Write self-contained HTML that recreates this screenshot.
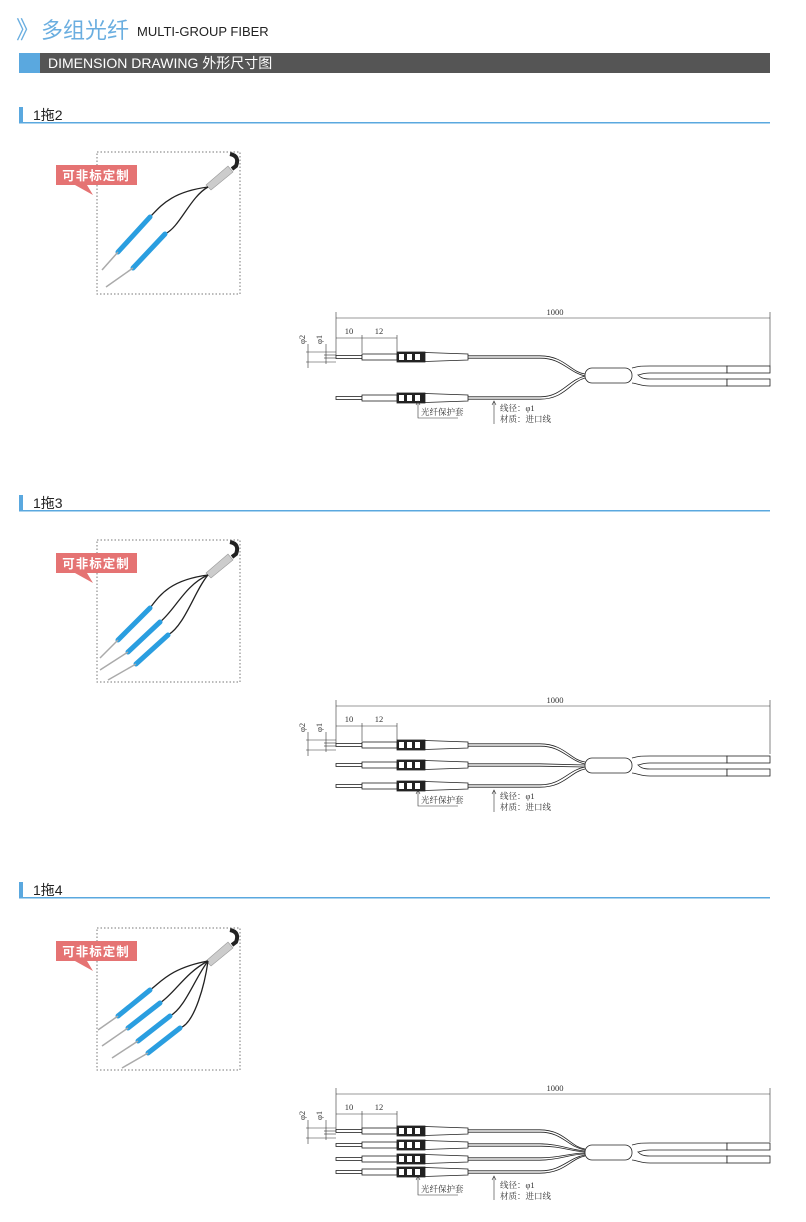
<!DOCTYPE html>
<html><head><meta charset="utf-8"><style>
html,body{margin:0;padding:0;background:#fff;}
svg{display:block;font-family:"Liberation Sans","Noto Sans CJK SC",sans-serif;}
.d{font-family:"Liberation Serif","Noto Serif CJK SC",serif;font-size:8.5px;fill:#333;}
</style></head><body>
<svg width="806" height="1222" viewBox="0 0 806 1222" xmlns="http://www.w3.org/2000/svg">
<defs>
  <g id="con" stroke="#222" stroke-width="0.8">
    <rect x="336" y="-1.5" width="26" height="3" fill="#fff"/>
    <rect x="362" y="-3" width="35" height="6" fill="#fff"/>
    <rect x="397" y="-5" width="28" height="10" fill="#222"/>
    <rect x="399" y="-3" width="5" height="6" fill="#fff" stroke="none"/>
    <rect x="407" y="-3" width="5" height="6" fill="#fff" stroke="none"/>
    <rect x="415" y="-3" width="5" height="6" fill="#fff" stroke="none"/>
    <polygon points="425,-4.5 468,-3 468,3 425,4.5" fill="#fff"/>
    <line x1="468" y1="-1.2" x2="540" y2="-1.2"/>
    <line x1="468" y1="1.2" x2="540" y2="1.2"/>
  </g>
  <g id="photobox">
    <rect x="97" y="0" width="143" height="142" fill="none" stroke="#777" stroke-dasharray="1.5,2" stroke-width="1"/>
    <path d="M56,13 h81 v20 h-50 l6,10 l-18,-10 h-19 z" fill="#e57373"/>
    <text x="96" y="28" font-size="12.5" font-weight="bold" fill="#fff" text-anchor="middle" letter-spacing="1">可非标定制</text>
    <path d="M230,2 q10,2 6,12 l-4,3" stroke="#222" stroke-width="4" fill="none"/>
    <polygon points="206,33 228,14 233,20 211,38" fill="#ccc" stroke="#999" stroke-width="0.6"/>
  </g>
</defs>

<!-- header -->
<text x="16" y="38" font-size="24" fill="#6aaee0">》</text>
<text x="41" y="38" font-size="22" fill="#6aaee0">多组光纤</text>
<text x="137" y="36" font-size="13" fill="#222">MULTI-GROUP FIBER</text>
<rect x="19" y="53" width="21" height="20" fill="#5aa8df"/>
<rect x="40" y="53" width="730" height="20" fill="#555"/>
<text x="48" y="68" font-size="14" fill="#fff">DIMENSION DRAWING 外形尺寸图</text>

<!-- section headers -->
<g>
  <rect x="19" y="107" width="4" height="15" fill="#5aa8df"/>
  <text x="33" y="120" font-size="14" fill="#222">1拖2</text>
  <rect x="19" y="122" width="751" height="1.5" fill="#5aa8df"/>
  <rect x="19" y="495" width="4" height="15" fill="#5aa8df"/>
  <text x="33" y="508" font-size="14" fill="#222">1拖3</text>
  <rect x="19" y="510" width="751" height="1.5" fill="#5aa8df"/>
  <rect x="19" y="882" width="4" height="15" fill="#5aa8df"/>
  <text x="33" y="895" font-size="14" fill="#222">1拖4</text>
  <rect x="19" y="897" width="751" height="1.5" fill="#5aa8df"/>
</g>

<!-- photos -->
<g transform="translate(0,152)">
  <use href="#photobox"/>
  <g fill="none" stroke="#222" stroke-width="1.3">
    <path d="M208,35 C170,40 160,55 150,65"/>
    <path d="M208,35 C190,45 180,75 165,82"/>
  </g>
  <g stroke="#2a9ee0" stroke-width="5" stroke-linecap="round">
    <line x1="150" y1="65" x2="118" y2="100"/>
    <line x1="165" y1="82" x2="133" y2="116"/>
  </g>
  <g stroke="#aaa" stroke-width="1.5"><line x1="118" y1="100" x2="102" y2="118"/><line x1="133" y1="116" x2="106" y2="135"/></g>
</g>
<g transform="translate(0,540)">
  <use href="#photobox"/>
  <g fill="none" stroke="#222" stroke-width="1.3">
    <path d="M208,35 C170,40 160,55 150,68"/>
    <path d="M208,35 C185,45 175,70 160,82"/>
    <path d="M208,35 C195,50 185,85 168,95"/>
  </g>
  <g stroke="#2a9ee0" stroke-width="5" stroke-linecap="round">
    <line x1="150" y1="68" x2="118" y2="100"/>
    <line x1="160" y1="82" x2="128" y2="112"/>
    <line x1="168" y1="95" x2="136" y2="124"/>
  </g>
  <g stroke="#aaa" stroke-width="1.5"><line x1="118" y1="100" x2="100" y2="118"/><line x1="128" y1="112" x2="100" y2="130"/><line x1="136" y1="124" x2="108" y2="140"/></g>
</g>
<g transform="translate(0,928)">
  <use href="#photobox"/>
  <g fill="none" stroke="#222" stroke-width="1.3">
    <path d="M208,33 C170,40 160,55 150,62"/>
    <path d="M208,33 C185,45 175,65 160,75"/>
    <path d="M208,33 C195,50 185,80 170,88"/>
    <path d="M208,33 C205,55 195,95 180,100"/>
  </g>
  <g stroke="#2a9ee0" stroke-width="5" stroke-linecap="round">
    <line x1="150" y1="62" x2="118" y2="88"/>
    <line x1="160" y1="75" x2="128" y2="100"/>
    <line x1="170" y1="88" x2="138" y2="113"/>
    <line x1="180" y1="100" x2="148" y2="125"/>
  </g>
  <g stroke="#aaa" stroke-width="1.5"><line x1="118" y1="88" x2="98" y2="102"/><line x1="128" y1="100" x2="102" y2="118"/><line x1="138" y1="113" x2="112" y2="130"/><line x1="148" y1="125" x2="122" y2="140"/></g>
</g>

<!-- Drawings: common dim part as function of offset -->
<!-- Section 1 -->
<g id="dim1">
  <g stroke="#333" stroke-width="0.6" fill="none">
    <line x1="336" y1="312" x2="336" y2="356"/>
    <line x1="770" y1="312" x2="770" y2="366"/>
    <line x1="336" y1="318" x2="770" y2="318"/>
    <line x1="362" y1="335" x2="362" y2="353"/>
    <line x1="397" y1="335" x2="397" y2="352"/>
    <line x1="336" y1="338" x2="397" y2="338"/>
    <line x1="306" y1="352" x2="336" y2="352"/>
    <line x1="306" y1="362" x2="336" y2="362"/>
    <line x1="324" y1="355" x2="336" y2="355"/>
    <line x1="324" y1="358" x2="336" y2="358"/>
    <line x1="308" y1="344" x2="308" y2="368"/>
    <line x1="326" y1="344" x2="326" y2="364"/>
  </g>
  <text class="d" x="555" y="315" text-anchor="middle">1000</text>
  <text class="d" x="349" y="334" text-anchor="middle">10</text>
  <text class="d" x="379" y="334" text-anchor="middle">12</text>
  <text class="d" transform="translate(305,344) rotate(-90)">φ2</text>
  <text class="d" transform="translate(322,344) rotate(-90)">φ1</text>
</g>
<use href="#con" y="357"/>
<use href="#con" y="398"/>
<g fill="none" stroke="#222" stroke-width="0.8">
  <path d="M540,355.8 C565,356 570,372 585,374"/>
  <path d="M540,358.2 C562,358 568,372 585,376"/>
  <path d="M540,396.8 C562,397 568,380 585,376"/>
  <path d="M540,399.2 C565,399 570,382 585,378"/>
  <rect x="585" y="368" width="47" height="15" rx="7" fill="#fff"/>
  <path d="M632,368 C640,366 640,366 650,366 L727,366 L727,373 L650,373 C642,373 640,375 638,375 C640,377 642,379 650,379 L727,379 L727,386 L650,386 C640,386 640,384 632,383"/>
  <rect x="727" y="366" width="43" height="7" fill="#fff"/>
  <rect x="727" y="379" width="43" height="7" fill="#fff"/>
</g>
<g stroke="#333" stroke-width="0.6" fill="none">
  <path d="M418,401 V418 H458"/><path d="M416,405 L418,401 L420,405"/>
  <path d="M494,401 V424"/><path d="M492,405 L494,401 L496,405"/>
</g>
<text class="d" x="421" y="415">光纤保护套</text>
<text class="d" x="500" y="411">线径：φ1</text>
<text class="d" x="500" y="422">材质：进口线</text>

<!-- Section 2 -->
<use href="#dim1" y="388"/>
<use href="#con" y="745"/>
<use href="#con" y="765"/>
<use href="#con" y="786"/>
<g fill="none" stroke="#222" stroke-width="0.8">
  <path d="M540,743.8 C565,744 570,760 585,762"/>
  <path d="M540,746.2 C562,746 568,760 585,764"/>
  <path d="M540,763.8 L585,765"/>
  <path d="M540,766.2 L585,767"/>
  <path d="M540,784.8 C562,785 568,770 585,767"/>
  <path d="M540,787.2 C565,787 570,772 585,769"/>
  <rect x="585" y="758" width="47" height="15" rx="7" fill="#fff"/>
  <path d="M632,758 C640,756 640,756 650,756 L727,756 L727,763 L650,763 C642,763 640,765 638,765 C640,767 642,769 650,769 L727,769 L727,776 L650,776 C640,776 640,774 632,773"/>
  <rect x="727" y="756" width="43" height="7" fill="#fff"/>
  <rect x="727" y="769" width="43" height="7" fill="#fff"/>
</g>
<g stroke="#333" stroke-width="0.6" fill="none">
  <path d="M418,790 V806 H458"/><path d="M416,794 L418,790 L420,794"/>
  <path d="M494,790 V812"/><path d="M492,794 L494,790 L496,794"/>
</g>
<text class="d" x="421" y="803">光纤保护套</text>
<text class="d" x="500" y="799">线径：φ1</text>
<text class="d" x="500" y="810">材质：进口线</text>

<!-- Section 3 -->
<use href="#dim1" y="776"/>
<use href="#con" y="1131"/>
<use href="#con" y="1145"/>
<use href="#con" y="1159"/>
<use href="#con" y="1172"/>
<g fill="none" stroke="#222" stroke-width="0.8">
  <path d="M540,1129.8 C565,1130 570,1147 585,1149"/>
  <path d="M540,1132.2 C562,1132 568,1147 585,1150"/>
  <path d="M540,1143.8 C560,1144 570,1150 585,1151"/>
  <path d="M540,1146.2 C560,1146 570,1151 585,1152"/>
  <path d="M540,1157.8 C560,1158 570,1153 585,1153"/>
  <path d="M540,1160.2 C560,1160 570,1154 585,1154"/>
  <path d="M540,1170.8 C562,1171 568,1158 585,1155"/>
  <path d="M540,1173.2 C565,1173 570,1159 585,1156"/>
  <rect x="585" y="1145" width="47" height="15" rx="7" fill="#fff"/>
  <path d="M632,1145 C640,1143 640,1143 650,1143 L727,1143 L727,1150 L650,1150 C642,1150 640,1152 638,1152 C640,1154 642,1156 650,1156 L727,1156 L727,1163 L650,1163 C640,1163 640,1161 632,1160"/>
  <rect x="727" y="1143" width="43" height="7" fill="#fff"/>
  <rect x="727" y="1156" width="43" height="7" fill="#fff"/>
</g>
<g stroke="#333" stroke-width="0.6" fill="none">
  <path d="M418,1176 V1195 H458"/><path d="M416,1180 L418,1176 L420,1180"/>
  <path d="M494,1176 V1200"/><path d="M492,1180 L494,1176 L496,1180"/>
</g>
<text class="d" x="421" y="1192">光纤保护套</text>
<text class="d" x="500" y="1188">线径：φ1</text>
<text class="d" x="500" y="1199">材质：进口线</text>
</svg>
</body></html>
